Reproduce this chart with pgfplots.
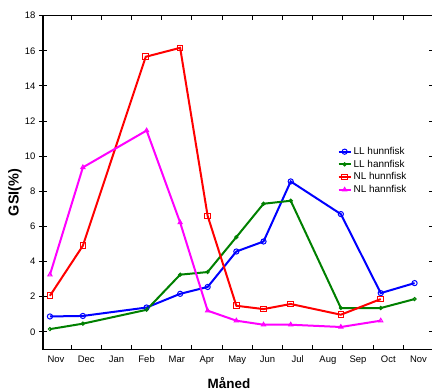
\documentclass[border=0pt]{standalone}
\usepackage{pgfplots}
\pgfplotsset{compat=1.18}
\usepackage{fontspec}
\setmainfont{Liberation Sans}
\definecolor{cblue}{RGB}{0,0,255}
\definecolor{cgreen}{RGB}{0,128,0}
\definecolor{cred}{RGB}{255,0,0}
\definecolor{cmag}{RGB}{255,0,255}
\begin{document}
\begin{tikzpicture}
\begin{axis}[
  at={(0,0)}, anchor=south west,
  scale only axis, width=390bp, height=333.6bp,
  xmin=-0.43, xmax=12.48, ymin=-1, ymax=18,
  xtick={0,...,12},
  xticklabels={Nov,Dec,Jan,Feb,Mar,Apr,May,Jun,Jul,Aug,Sep,Oct,Nov},
  minor xtick={0.5,1.5,...,11.5},
  ytick={0,2,...,18},
  major x tick style={draw=none},
  xtick align=inside, ytick align=center,
  major tick length=8bp, minor tick length=4bp,
  axis line style={line width=1.5bp},
  tick style={line width=1bp, black},
  tick label style={font=\fontsize{9.5}{10}\selectfont},
  x tick label style={text height=7bp, text depth=2bp, yshift=-3bp},
  /pgf/number format/assume math mode=true,
  xlabel={Måned}, ylabel={GSI(\%)},
  label style={font=\bfseries\fontsize{13.5}{15}\selectfont},
  xlabel style={at={(axis description cs:0.477,-0.102)}, anchor=center},
  ylabel style={at={(axis description cs:-0.072,0.47)}, anchor=center, font=\bfseries\fontsize{14.5}{16}\selectfont},
  legend style={at={(axis description cs:0.755,0.612)}, anchor=north west, draw=none, fill=none,
    font=\fontsize{10}{11}\selectfont, inner sep=0pt, row sep=0bp},
  legend cell align=left,
  legend image code/.code={\draw[mark repeat=2,mark phase=2] plot coordinates {(0bp,0bp)(6bp,0bp)(12bp,0bp)};},
  every axis plot/.append style={line width=2bp},
]
\addplot[cblue, mark=o, mark size=2.6bp, mark options={solid, fill=white, line width=1bp}] coordinates {
(-0.2,0.87) (0.89,0.9) (3.0,1.38) (4.11,2.16) (5.02,2.55) (5.97,4.57) (6.87,5.14) (7.77,8.56) (9.43,6.7) (10.75,2.2) (11.87,2.77)};
\addlegendentry{LL hunnfisk}
\addplot[cgreen, mark=o, mark size=1.6bp, mark options={solid, fill=white, line width=1bp}] coordinates {
(-0.2,0.15) (0.89,0.46) (3.0,1.25) (4.11,3.25) (5.02,3.4) (5.97,5.39) (6.87,7.29) (7.77,7.46) (9.43,1.35) (10.75,1.35) (11.87,1.86)};
\addlegendentry{LL hannfisk}
\addplot[cred, mark=square, mark size=2.8bp, mark options={solid, fill=white, line width=1bp}] coordinates {
(-0.2,2.05) (0.89,4.9) (2.97,15.66) (4.11,16.17) (5.02,6.6) (5.97,1.48) (6.87,1.29) (7.77,1.58) (9.43,0.97) (10.75,1.86)};
\addlegendentry{NL hunnfisk}
\addplot[cmag, mark=triangle, mark size=2.4bp, mark options={solid, fill=white, line width=1bp}] coordinates {
(-0.2,3.25) (0.89,9.36) (3.0,11.46) (4.11,6.22) (5.02,1.2) (5.97,0.63) (6.87,0.4) (7.77,0.4) (9.43,0.27) (10.75,0.63)};
\addlegendentry{NL hannfisk}
\end{axis}
\pgfresetboundingbox
\path (-43bp,-42.7bp) rectangle (389bp,349.3bp);
\end{tikzpicture}
\end{document}
